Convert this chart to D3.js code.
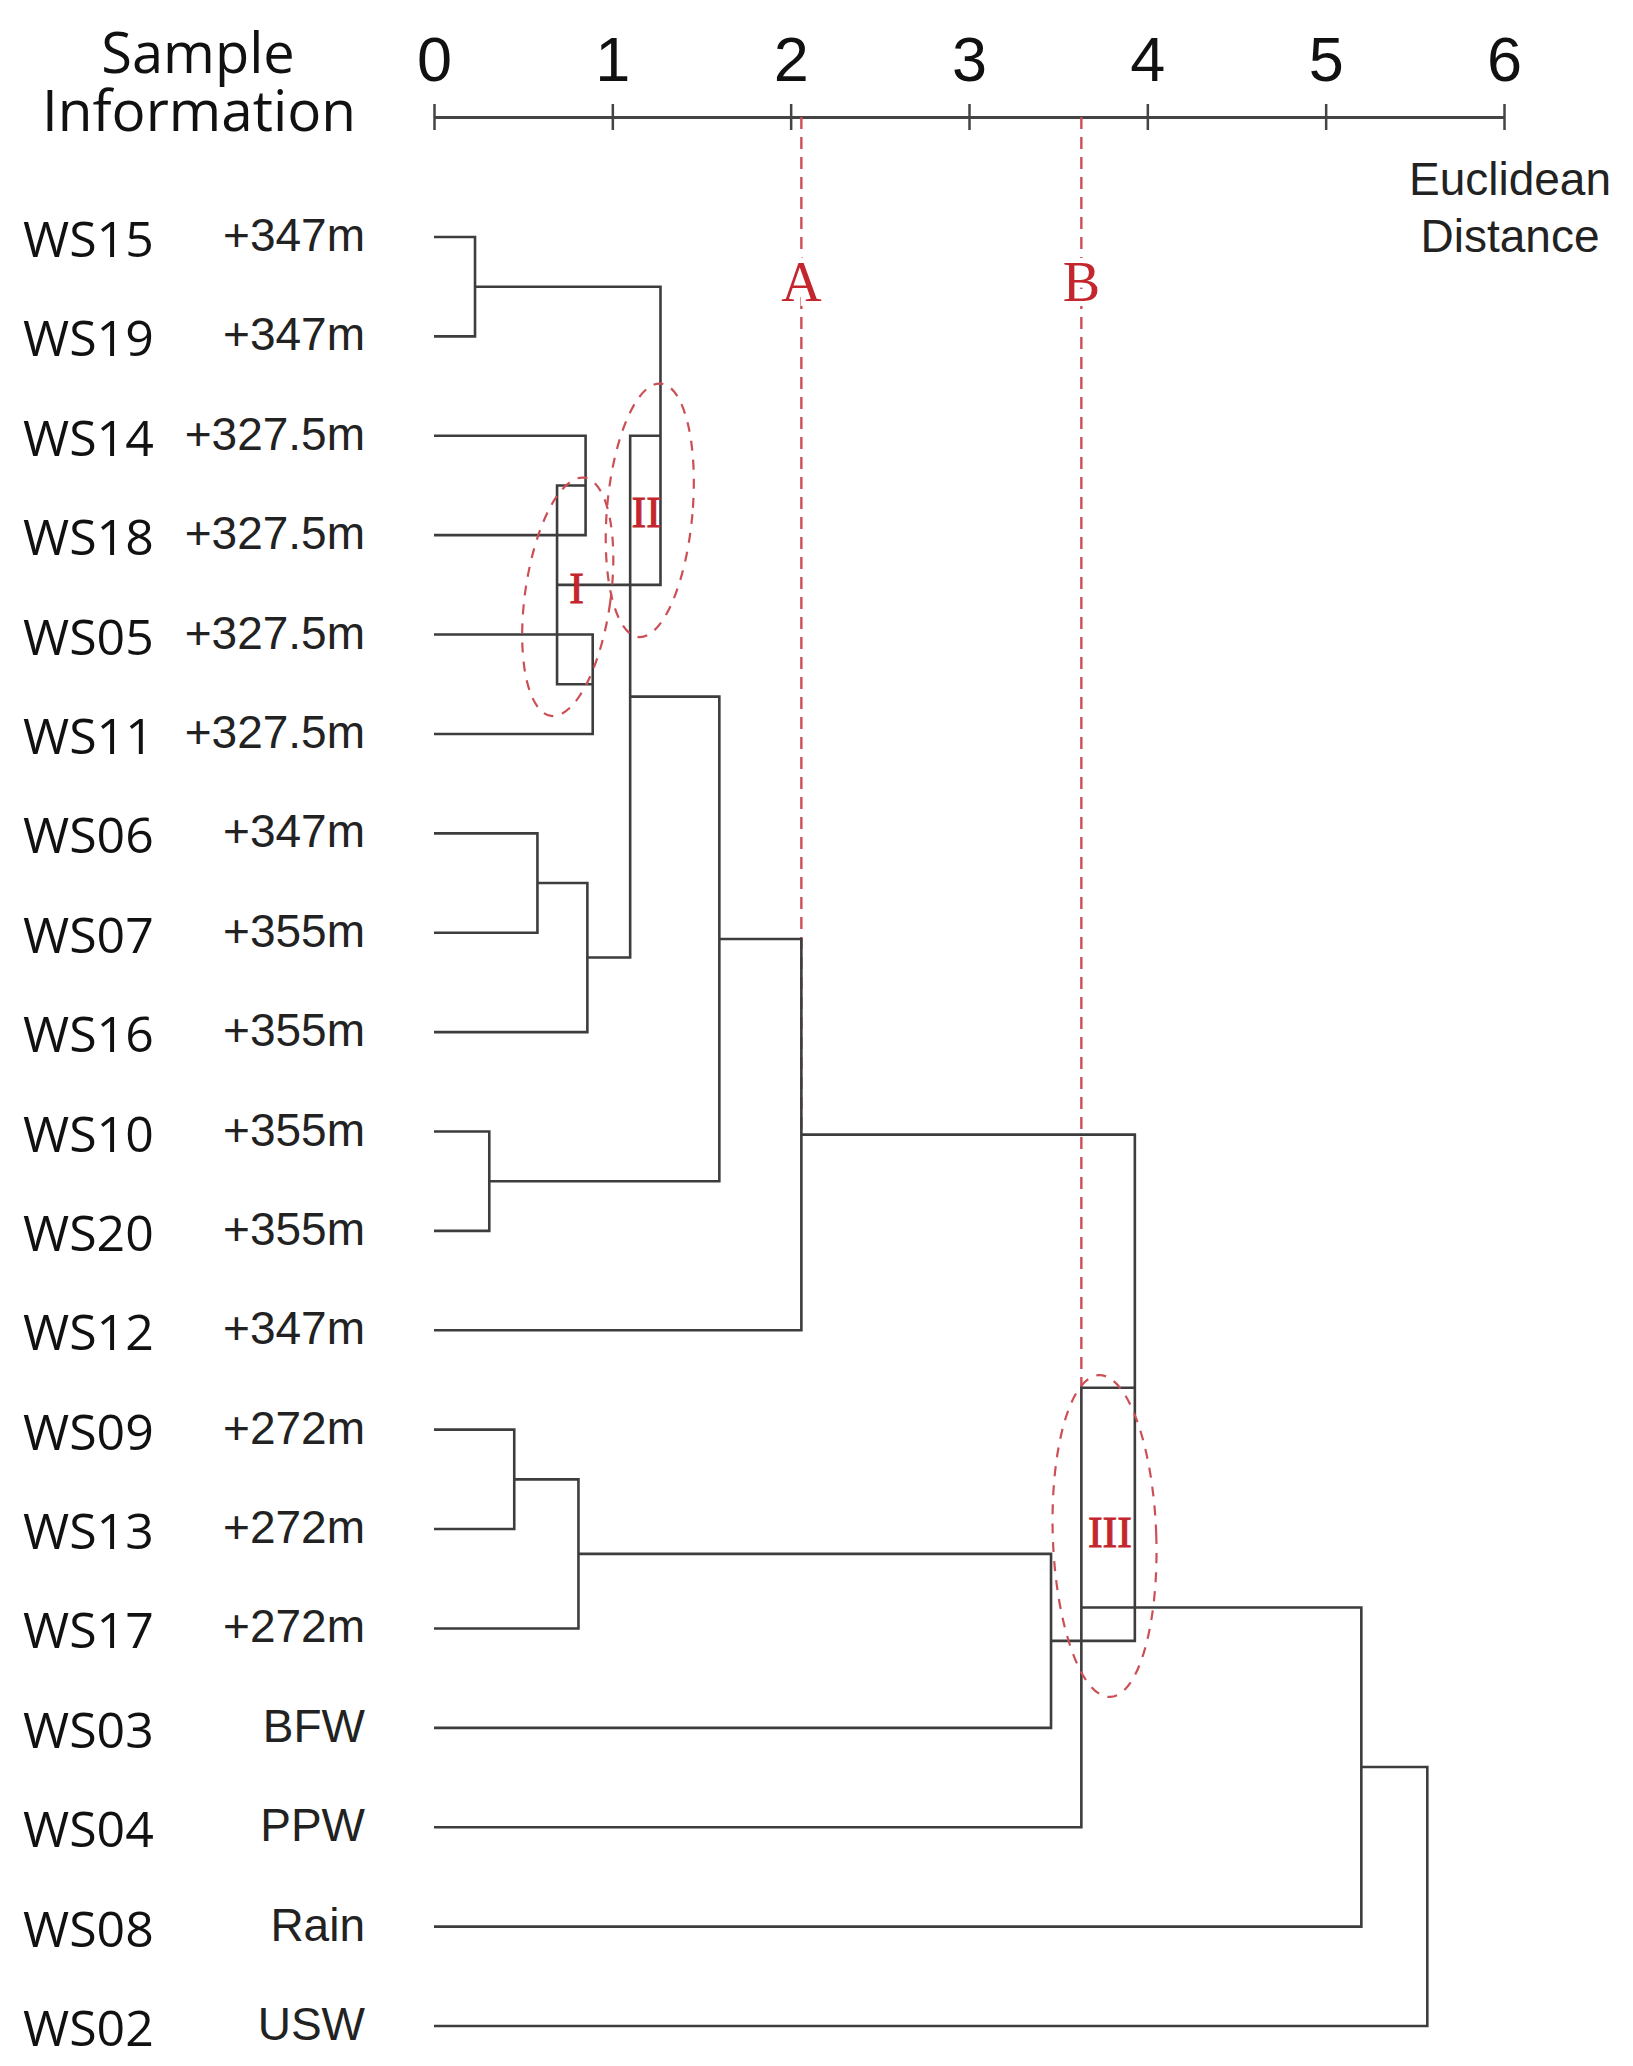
<!DOCTYPE html>
<html>
<head>
<meta charset="utf-8">
<script src="https://cdn.jsdelivr.net/npm/d3@7"></script>
<style>
  html, body { margin: 0; padding: 0; background: #fff; }
  svg { display: block; }
</style>
</head>
<body>
<svg id="chart" width="1633" height="2066"></svg>
<script>
// ---------------- DATA ----------------
const leaves = ["WS15","WS19","WS14","WS18","WS05","WS11","WS06","WS07","WS16","WS10","WS20","WS12","WS09","WS13","WS17","WS03","WS04","WS08","WS02"];
const sampleInfo = ["+347m","+347m","+327.5m","+327.5m","+327.5m","+327.5m","+347m","+355m","+355m","+355m","+355m","+347m","+272m","+272m","+272m","BFW","PPW","Rain","USW"];

const mergeIds    = ["n1","n2","n3","n4","n5","n6","n7","n8","n9","n10","n11","n12","n13","n14","n15","n16","n17","n18"];
const mergeLeft   = ["WS15","WS14","WS05","n2","n1","WS06","n6","n5","WS10","n8","n10","WS09","n12","n13","n11","n15","n16","n17"];
const mergeRight  = ["WS19","WS18","WS11","n3","n4","WS07","WS16","n7","WS20","n9","WS12","WS13","WS17","WS03","n14","WS04","WS08","WS02"];
const mergeHeight = [0.23, 0.85, 0.89, 0.69, 1.27, 0.58, 0.86, 1.10, 0.31, 1.60, 2.06, 0.45, 0.81, 3.46, 3.93, 3.63, 5.20, 5.57];

const axisTicks = [0,1,2,3,4,5,6];

const cutNames   = ["A","B"];
const cutAtNode  = ["n11","n16"];   // distance of the cut = height of this node
const cutEndNode = ["n11","n15"];   // dashed line runs down to this node

const clusterNames      = ["I","II","III"];
const clusterCenterDist = [0.75, 1.21, 3.76];
const clusterCenterRow  = [3.62, 2.75, 13.07];
const clusterHalfDist   = [0.24, 0.24, 0.29];
const clusterHalfRows   = [1.21, 1.28, 1.62];
const clusterLabelDist  = [0.80, 1.19, 3.79];
const clusterLabelRow   = [3.53, 2.77, 13.03];

// ---------------- LAYOUT ----------------
const svg = d3.select("#chart");
const x = d3.scaleLinear().domain([0, 6]).range([434, 1504]);
const y = d3.scalePoint().domain(leaves).range([237, 2026]);
const yRow = d3.scaleLinear().domain([0, leaves.length - 1]).range([237, 2026]);
const axisY = 117;

const nodeH = {}, nodeY = {};
leaves.forEach(l => { nodeH[l] = 0; nodeY[l] = y(l); });
mergeIds.forEach((id, i) => {
  nodeH[id] = mergeHeight[i];
  nodeY[id] = (nodeY[mergeLeft[i]] + nodeY[mergeRight[i]]) / 2;
});

const lineColor = "#3d3d3d";
const red = "#c4262e";
const redDash = "#cc4f55";

// ---------------- HEADERS ----------------
const hdr = svg.append("text")
  .attr("font-family", "'Open Sans', 'Noto Sans', sans-serif")
  .attr("font-size", 56).attr("fill", "#111").attr("text-anchor", "middle");
hdr.append("tspan").attr("x", 198).attr("y", 73).text("Sample");
hdr.append("tspan").attr("x", 199).attr("y", 131).attr("textLength", 314).attr("lengthAdjust", "spacingAndGlyphs").text("Information");

const eu = svg.append("text")
  .attr("font-family", "'Liberation Sans', Arial, sans-serif")
  .attr("font-size", 46).attr("fill", "#222").attr("text-anchor", "middle");
eu.append("tspan").attr("x", 1510).attr("y", 195).text("Euclidean");
eu.append("tspan").attr("x", 1510).attr("y", 252).text("Distance");

// ---------------- AXIS ----------------
const axisG = svg.append("g").attr("transform", `translate(0,${axisY})`)
  .call(d3.axisTop(x).tickValues(axisTicks).tickFormat(d3.format("d")).tickSize(13).tickSizeOuter(0));
axisG.select(".domain").attr("stroke", "#444").attr("stroke-width", 3);
axisG.selectAll(".tick line").attr("stroke", "#444").attr("stroke-width", 2.5).attr("y1", 13).attr("y2", -13);
axisG.selectAll(".tick text")
  .attr("font-family", "'Liberation Sans', Arial, sans-serif")
  .attr("font-size", 63).attr("fill", "#111")
  .attr("y", -36).attr("dy", "0");

// ---------------- CUT LINES ----------------
cutNames.forEach((name, i) => {
  const cx = x(nodeH[cutAtNode[i]]);
  svg.append("line")
    .attr("x1", cx).attr("x2", cx)
    .attr("y1", axisY).attr("y2", nodeY[cutEndNode[i]])
    .attr("stroke", redDash).attr("stroke-width", 2.4)
    .attr("stroke-dasharray", "12,8");
  svg.append("text")
    .attr("x", cx).attr("y", yRow(0.44) + 20)
    .attr("text-anchor", "middle")
    .attr("font-family", "'Liberation Serif', 'Times New Roman', serif")
    .attr("font-size", 56).attr("fill", red)
    .attr("stroke", "#fff").attr("stroke-width", 10).attr("paint-order", "stroke")
    .text(name);
});

// ---------------- DENDROGRAM ----------------
const dg = svg.append("g").attr("fill", "none").attr("stroke", lineColor).attr("stroke-width", 2.6);
mergeIds.forEach((id, i) => {
  const l = mergeLeft[i], r = mergeRight[i];
  const p = d3.path();
  p.moveTo(x(nodeH[l]), nodeY[l]);
  p.lineTo(x(nodeH[id]), nodeY[l]);
  p.lineTo(x(nodeH[id]), nodeY[r]);
  p.lineTo(x(nodeH[r]), nodeY[r]);
  dg.append("path").attr("d", p.toString());
});

// ---------------- CLUSTER ANNOTATIONS ----------------
const tilts = [8, 5, -2];
clusterNames.forEach((name, i) => {
  const cx = x(clusterCenterDist[i]), cy = yRow(clusterCenterRow[i]);
  svg.append("ellipse")
    .attr("cx", cx).attr("cy", cy)
    .attr("rx", x(clusterHalfDist[i]) - x(0))
    .attr("ry", yRow(clusterHalfRows[i]) - yRow(0))
    .attr("transform", `rotate(${tilts[i]},${cx},${cy})`)
    .attr("fill", "none").attr("stroke", redDash).attr("stroke-width", 2.2)
    .attr("stroke-dasharray", "10,9");
  svg.append("text")
    .attr("x", x(clusterLabelDist[i])).attr("y", yRow(clusterLabelRow[i]) + 15)
    .attr("text-anchor", "middle")
    .attr("font-family", "'Liberation Serif', 'Times New Roman', serif")
    .attr("font-size", 44).attr("fill", red)
    .attr("stroke", red).attr("stroke-width", 1)
    .text(name);
});

// ---------------- LEAF LABELS ----------------
svg.append("g").selectAll("text.ws").data(leaves).join("text")
  .attr("class", "ws")
  .attr("x", 23).attr("y", d => y(d) + 20)
  .attr("font-family", "'Open Sans', 'Noto Sans', sans-serif")
  .attr("font-size", 50).attr("fill", "#111")
  .text(d => d);

svg.append("g").selectAll("text.info").data(sampleInfo).join("text")
  .attr("class", "info")
  .attr("x", 365).attr("y", (d, i) => y(leaves[i]) + 14)
  .attr("text-anchor", "end")
  .attr("font-family", "'Liberation Sans', Arial, sans-serif")
  .attr("font-size", 46).attr("fill", "#222")
  .text(d => d);
</script>
</body>
</html>
